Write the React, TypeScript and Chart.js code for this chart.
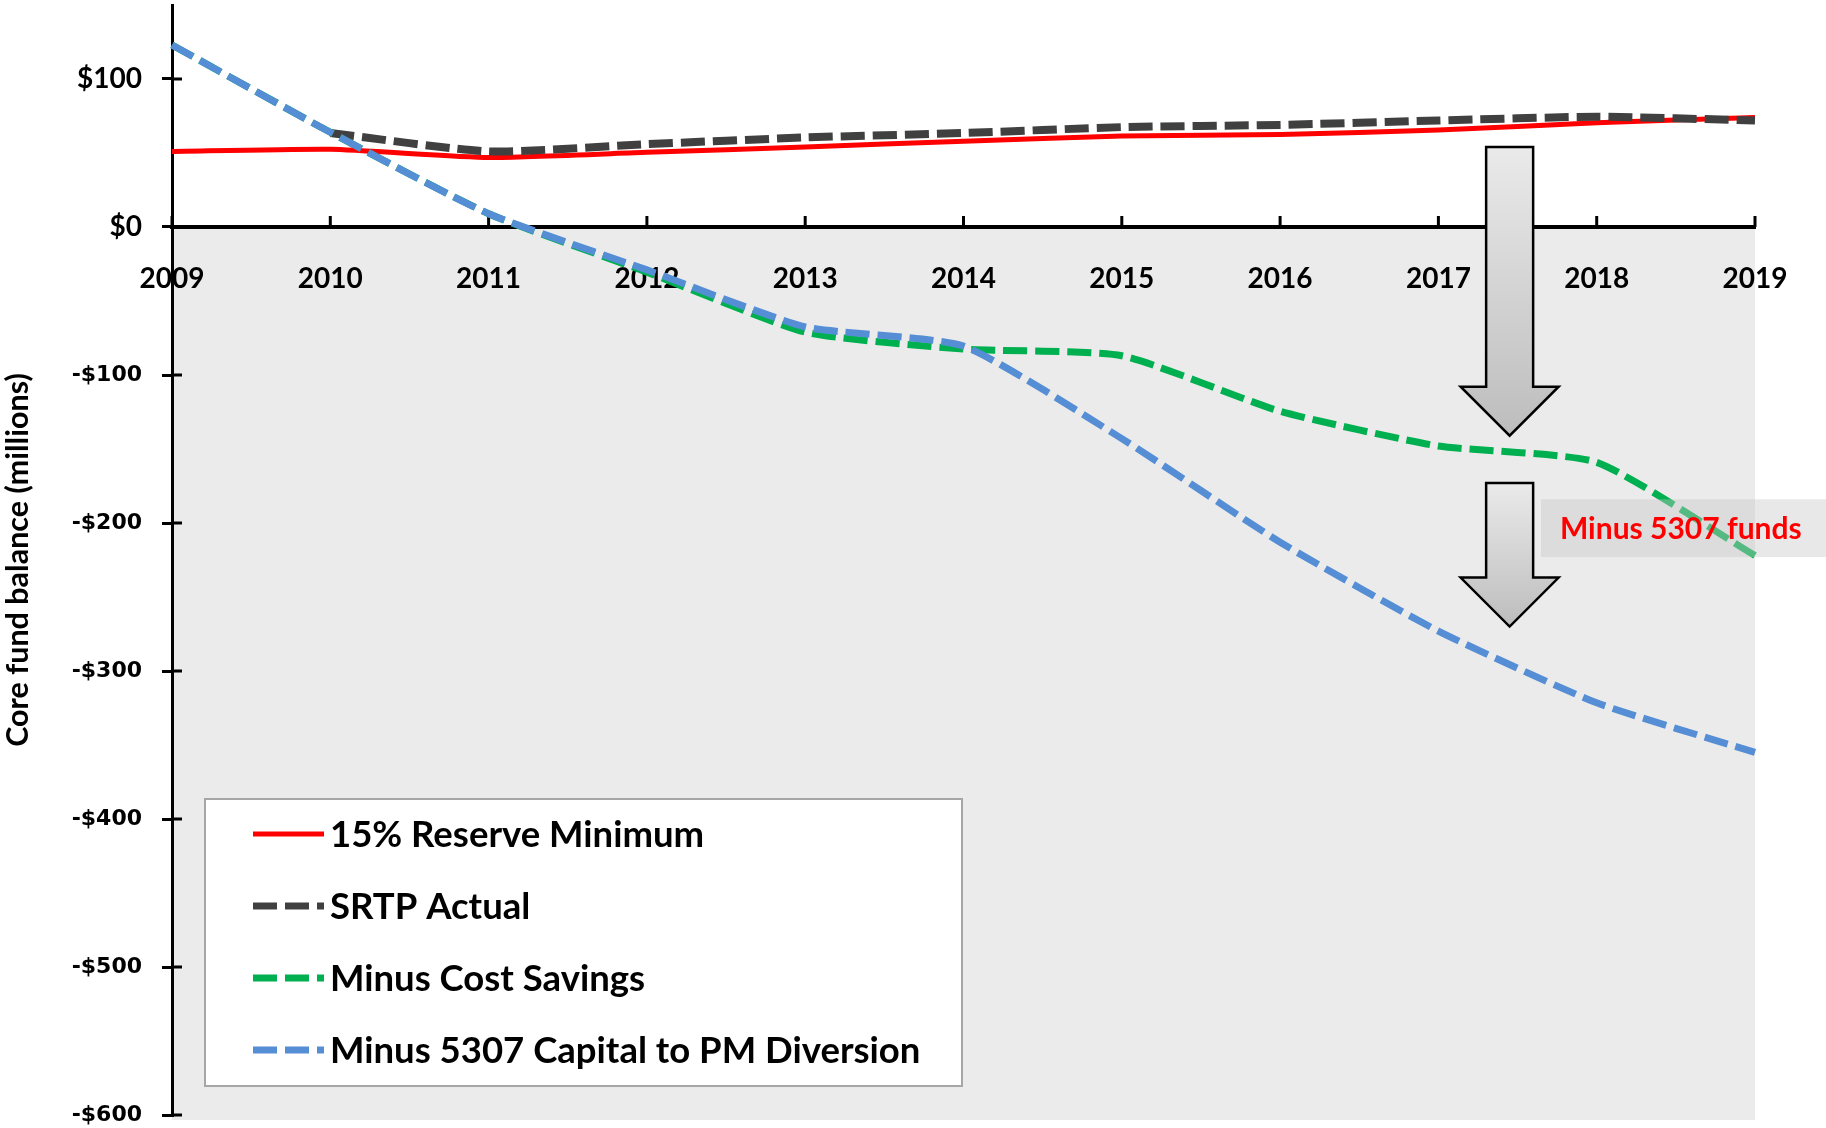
import React, { useEffect, useRef } from 'react';
import { Chart, registerables } from 'chart.js';

Chart.register(...registerables);

// ---------- data ----------
const years = ['2009', '2010', '2011', '2012', '2013', '2014', '2015', '2016', '2017', '2018', '2019'];
const reserveMinimum = [51, 52.5, 47, 50.5, 54, 58, 61.5, 62.5, 65.5, 70.5, 74];
const srtpActual = [null, 63.5, 51, 56, 60.5, 63.5, 67.5, 69, 72, 74.5, 72];
const minusCostSavings = [123, 64, 9, -30.5, -71, -82.5, -87, -124.5, -148, -159, -222];
const minus5307Diversion = [123, 64, 9, -29, -67.5, -80.5, -143, -213, -273, -321.5, -355];
const seriesNames = ['15% Reserve Minimum', 'SRTP Actual', 'Minus Cost Savings', 'Minus 5307 Capital to PM Diversion'];
const seriesColors = ['#FF0000', '#404040', '#00B050', '#558ED5'];
const yMin = -600;
const yMax = 150;
const yStep = 100;
const yAxisTitle = 'Core fund balance (millions)';
const calloutText = 'Minus 5307 funds';
// arrows: category index position, start value, tip value
const arrowIndex = 8.45;
const arrowStarts = [54, -173];
const arrowTips = [-141, -270];
// callout box: left index, top value, bottom value
const calloutLeftIndex = 8.648;
const calloutTop = -184;
const calloutBottom = -223;

const CAL = 'Lato, "Open Sans", sans-serif';

const fmtMoney = (v: number) => (v < 0 ? '-$' + Math.abs(v) : '$' + v);

const bgPlugin = {
  id: 'negBg',
  beforeDraw(chart: any) {
    const { ctx, chartArea, scales } = chart;
    const y0 = scales.y.getPixelForValue(0);
    ctx.save();
    ctx.fillStyle = '#EBEBEB';
    ctx.fillRect(chartArea.left, y0, chartArea.right - chartArea.left, chartArea.bottom + 5 - y0);
    ctx.restore();
  },
  beforeDatasetsDraw(chart: any) {
    const { ctx, chartArea, scales } = chart;
    const y0 = scales.y.getPixelForValue(0);
    ctx.save();
    ctx.strokeStyle = '#000';
    ctx.lineWidth = 3;
    years.forEach((_, i) => {
      const x = scales.x.getPixelForValue(i);
      ctx.beginPath();
      ctx.moveTo(x, y0);
      ctx.lineTo(x, y0 - 11);
      ctx.stroke();
    });
    scales.y.ticks.forEach((t: any) => {
      const y = scales.y.getPixelForValue(t.value);
      ctx.beginPath();
      ctx.moveTo(chartArea.left, y);
      ctx.lineTo(chartArea.left + 10, y);
      ctx.stroke();
    });
    ctx.restore();
  },
};

const annotPlugin = {
  id: 'annot',
  afterDatasetsDraw(chart: any) {
    const { ctx, scales, width } = chart;
    const cx = scales.x.getPixelForValue(arrowIndex);
    ctx.save();
    arrowStarts.forEach((s, i) => {
      const top = scales.y.getPixelForValue(s);
      const tip = scales.y.getPixelForValue(arrowTips[i]);
      const headH = 49;
      const base = tip - headH;
      const sw = 23.5;
      const hw = 49;
      const g = ctx.createLinearGradient(0, top, 0, tip);
      g.addColorStop(0, '#EAEAEA');
      g.addColorStop(1, '#BDBDBD');
      ctx.beginPath();
      ctx.moveTo(cx - sw, top);
      ctx.lineTo(cx + sw, top);
      ctx.lineTo(cx + sw, base);
      ctx.lineTo(cx + hw, base);
      ctx.lineTo(cx, tip);
      ctx.lineTo(cx - hw, base);
      ctx.lineTo(cx - sw, base);
      ctx.closePath();
      ctx.fillStyle = g;
      ctx.fill();
      ctx.strokeStyle = '#000';
      ctx.lineWidth = 2.5;
      ctx.lineJoin = 'miter';
      ctx.stroke();
    });
    const bl = scales.x.getPixelForValue(calloutLeftIndex);
    const bt = scales.y.getPixelForValue(calloutTop);
    const bb = scales.y.getPixelForValue(calloutBottom);
    ctx.fillStyle = 'rgba(200,200,200,0.42)';
    ctx.fillRect(bl, bt, width - bl, bb - bt);
    ctx.fillStyle = '#FF0000';
    ctx.font = 'bold 30px ' + CAL;
    ctx.textBaseline = 'middle';
    ctx.textAlign = 'left';
    ctx.fillText(calloutText, bl + 19, (bt + bb) / 2 + 1);
    ctx.restore();
  },
  afterDraw(chart: any) {
    const { ctx } = chart;
    const L = 205, T = 799, R = 962, B = 1086;
    ctx.save();
    ctx.fillStyle = '#FFFFFF';
    ctx.fillRect(L, T, R - L, B - T);
    ctx.strokeStyle = '#A6A6A6';
    ctx.lineWidth = 2;
    ctx.strokeRect(L, T, R - L, B - T);
    seriesNames.forEach((name, i) => {
      const y = 834 + i * 72;
      ctx.beginPath();
      ctx.strokeStyle = seriesColors[i];
      ctx.lineWidth = i === 0 ? 5 : 7;
      ctx.lineCap = 'butt';
      ctx.setLineDash(i === 0 ? [] : [24, 8]);
      ctx.moveTo(253, y);
      ctx.lineTo(324, y);
      ctx.stroke();
      ctx.setLineDash([]);
      ctx.fillStyle = '#000';
      ctx.font = 'bold 36.5px ' + CAL;
      ctx.textBaseline = 'middle';
      ctx.textAlign = 'left';
      ctx.fillText(name, 330, y + 1);
    });
    ctx.restore();
  },
};

export default function App() {
  const ref = useRef<HTMLCanvasElement | null>(null);
  useEffect(() => {
    if (!ref.current) return;
    const values = [reserveMinimum, srtpActual, minusCostSavings, minus5307Diversion];
    const chart = new Chart(ref.current, {
      type: 'line',
      data: {
        labels: years,
        datasets: values.map((d, i) => ({
          label: seriesNames[i],
          data: d as any,
          borderColor: seriesColors[i],
          backgroundColor: seriesColors[i],
          borderWidth: i === 0 ? 5 : i === 1 ? 8 : 7,
          borderDash: i === 0 ? [] : [24, 8],
          borderCapStyle: 'butt',
          borderJoinStyle: 'round',
          pointRadius: 0,
          fill: false,
          tension: 0.18,
          order: 4 - i,
          spanGaps: false,
        })),
      },
      options: {
        responsive: true,
        maintainAspectRatio: false,
        animation: false,
        layout: { padding: { top: 5, right: 71, bottom: 13, left: 0 } },
        plugins: { legend: { display: false }, tooltip: { enabled: false } },
        scales: {
          x: {
            type: 'category',
            position: { y: 0 } as any,
            offset: false,
            grid: { display: true, drawOnChartArea: false, drawTicks: false },
            border: { display: true, color: '#000', width: 4 },
            ticks: {
              autoSkip: false,
              maxRotation: 0,
              padding: 35,
              color: '#000',
              font: { family: CAL, weight: 'bold', size: 28 },
            },
            afterFit: (s: any) => {
              s.paddingLeft = 0;
              s.paddingRight = 0;
            },
          } as any,
          y: {
            min: yMin,
            max: yMax,
            position: 'left',
            ticks: {
              stepSize: yStep,
              padding: 20,
              color: '#000',
              autoSkip: false,
              callback: (v: any) => fmtMoney(Number(v)),
              font: (c: any) =>
                c.tick && c.tick.value < 0
                  ? { family: '"DejaVu Sans", Verdana, sans-serif', weight: 'bold', size: 22 }
                  : { family: CAL, weight: 'bold', size: 28 },
            },
            grid: { drawOnChartArea: false, drawTicks: true, tickLength: 10, color: '#000', lineWidth: 3 },
            border: { display: true, color: '#000', width: 3 },
            title: {
              display: true,
              text: yAxisTitle,
              color: '#000',
              font: { family: CAL, weight: 'bold', size: 30.5 },
              padding: { top: 0, bottom: 0 },
            },
            afterBuildTicks: (s: any) => {
              s.ticks = s.ticks.filter((t: any) => Math.abs(t.value % yStep) < 1e-6);
            },
            afterFit: (s: any) => {
              s.width = 172;
              s.paddingTop = 0;
              s.paddingBottom = 0;
            },
          } as any,
        },
      },
      plugins: [bgPlugin, annotPlugin],
    });
    return () => chart.destroy();
  }, []);
  return (
    <div style={{ position: 'fixed', left: 0, top: 0, width: '1826px', height: '1128px', background: '#fff' }}>
      <canvas ref={ref} />
    </div>
  );
}
